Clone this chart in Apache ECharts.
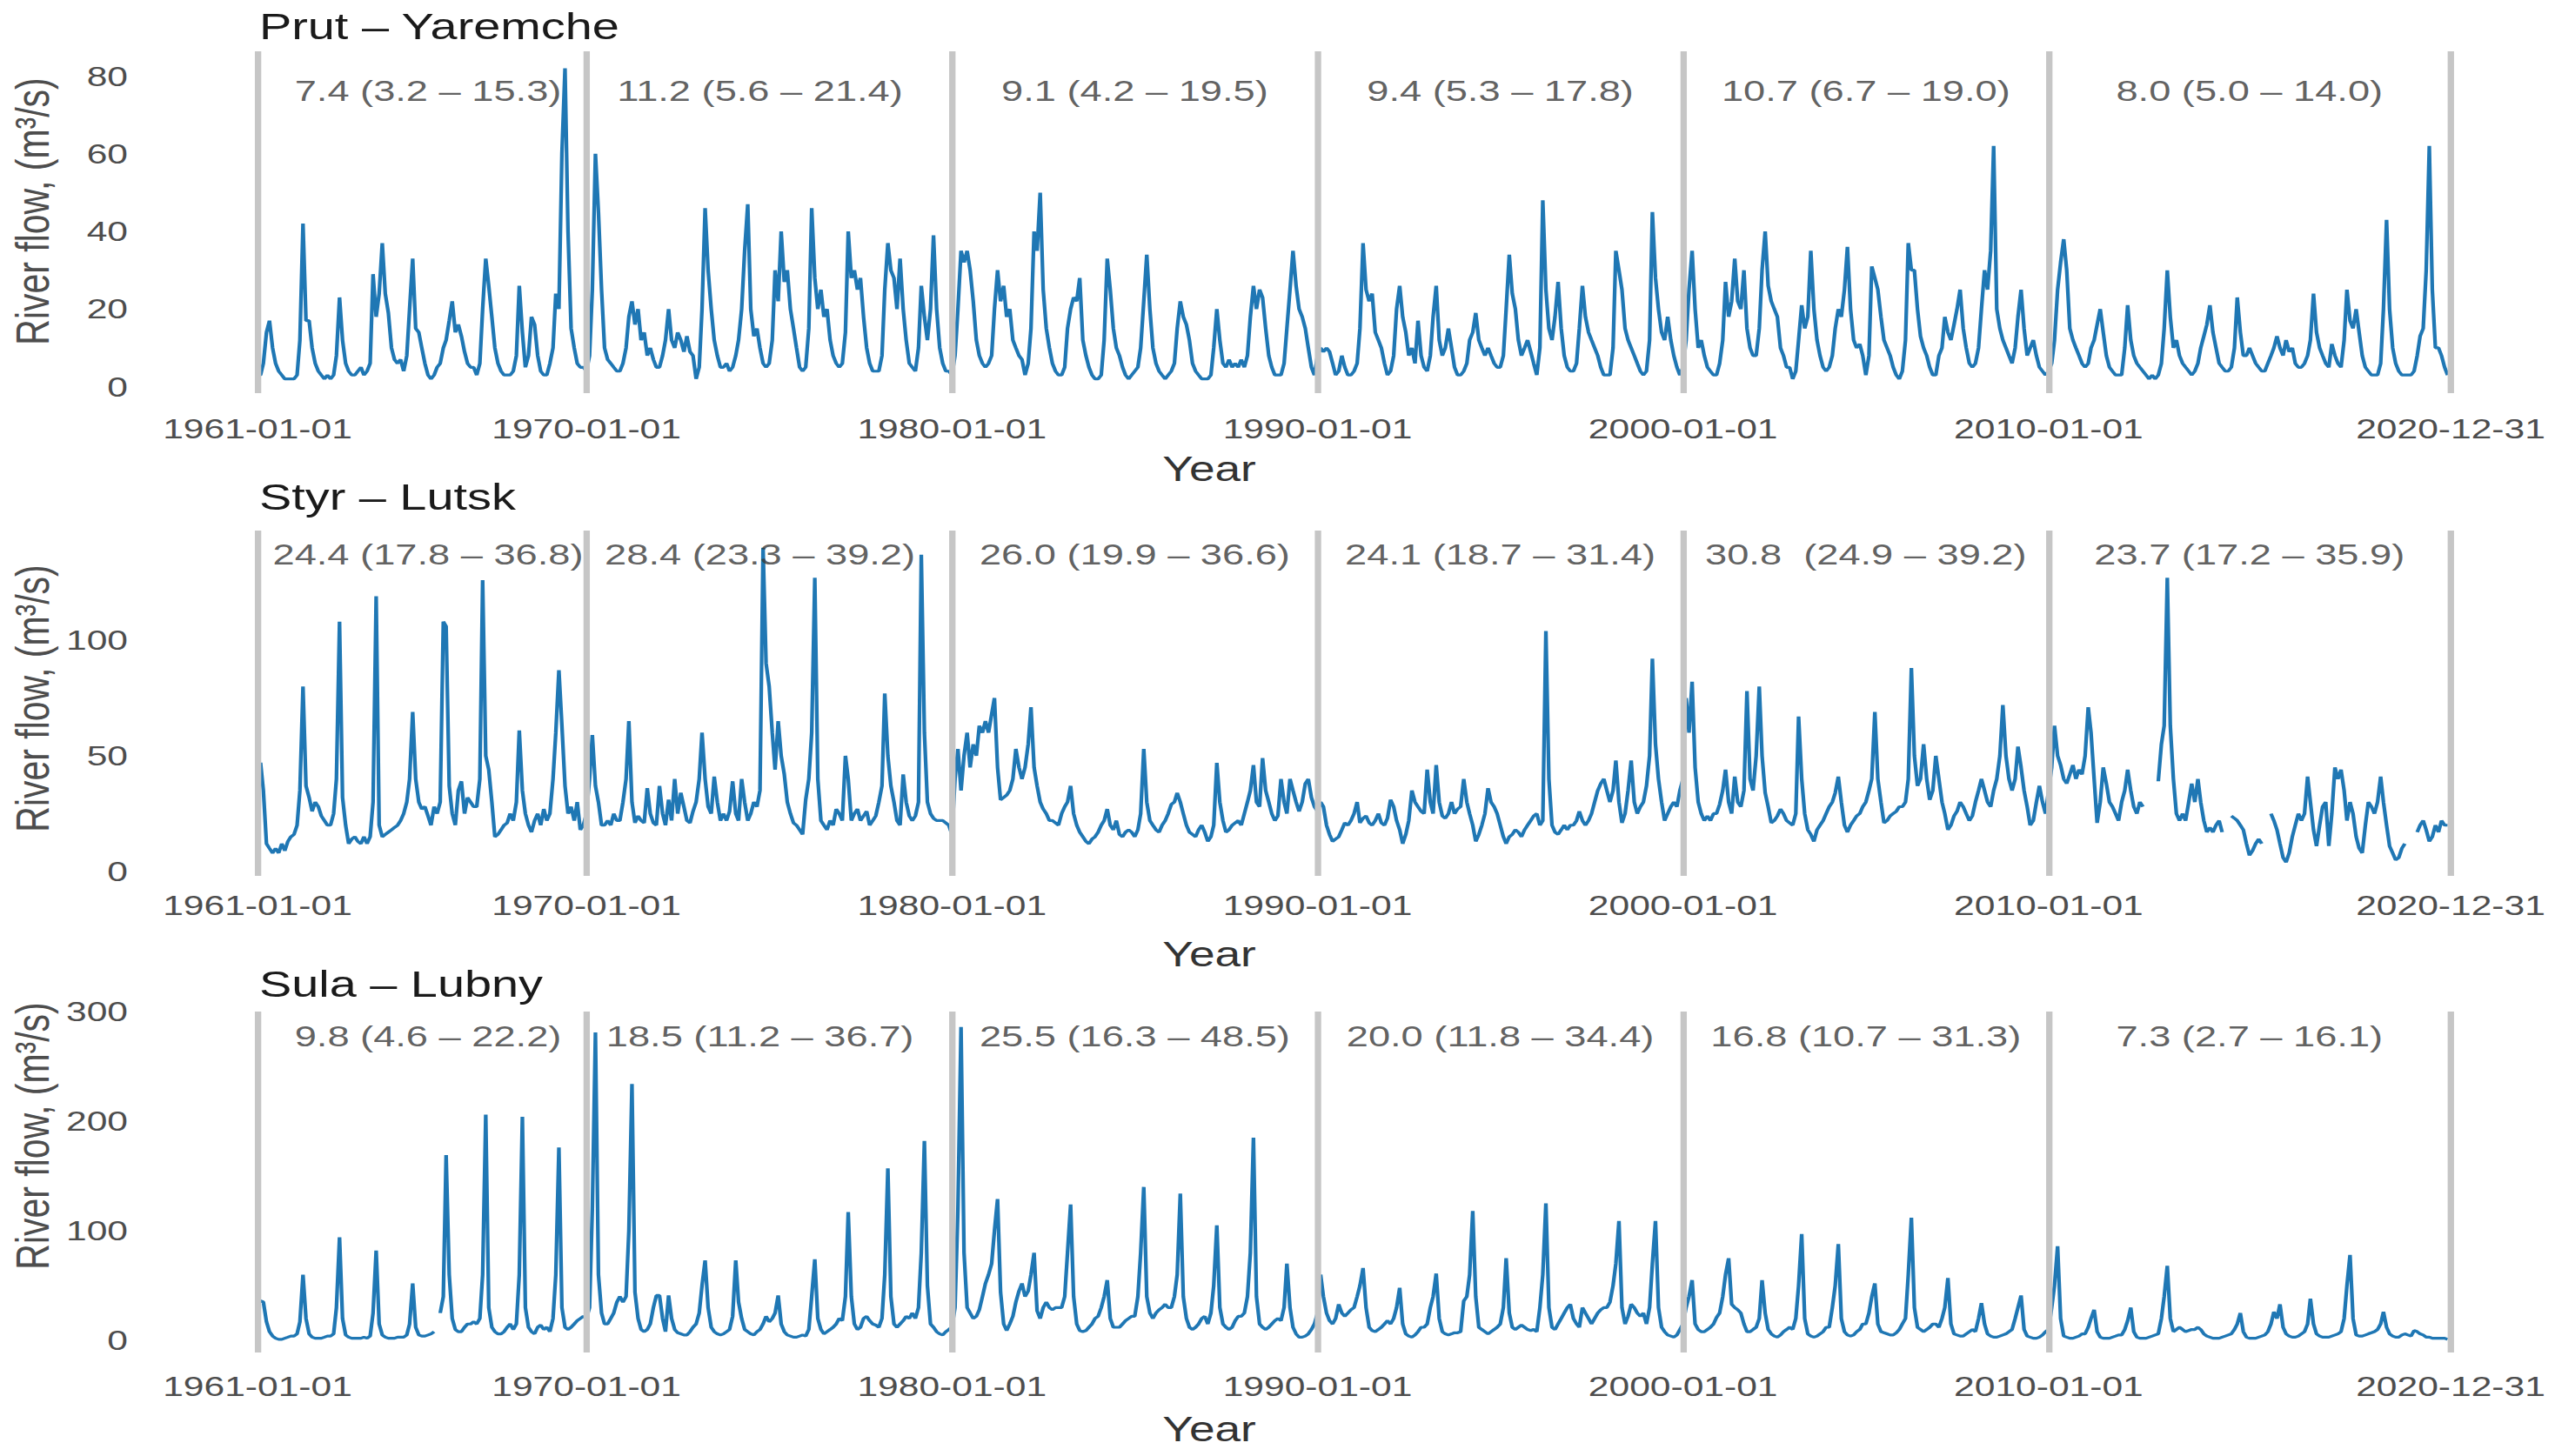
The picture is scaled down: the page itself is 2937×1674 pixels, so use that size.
<!DOCTYPE html>
<html>
<head>
<meta charset="utf-8">
<title>River flow</title>
<script src="https://cdn.jsdelivr.net/npm/echarts@6/dist/echarts.min.js"></script>
<style>
  html, body { margin: 0; padding: 0; background: #fff; overflow: hidden; }
  /* the source figure is stretched sideways, so the chart is drawn narrow and scaled */
  #main { width: 2208px; height: 1674px; transform: scaleX(1.33016); transform-origin: 0 0; }
</style>
</head>
<body>
<div id="main"></div>
<script>
var firstYear = 1961;
var riverNames = ['Prut – Yaremche', 'Styr – Lutsk', 'Sula – Lubny'];
var decadeTicks = ['1961-01-01', '1970-01-01', '1980-01-01', '1990-01-01', '2000-01-01', '2010-01-01', '2020-12-31'];
var noteDates = ['1965-09-01', '1974-10-01', '1985-01-01', '1995-01-01', '2005-01-01', '2015-07-01'];

var prutNotes = ['7.4 (3.2 – 15.3)', '11.2 (5.6 – 21.4)', '9.1 (4.2 – 19.5)', '9.4 (5.3 – 17.8)', '10.7 (6.7 – 19.0)', '8.0 (5.0 – 14.0)'];
var styrNotes = ['24.4 (17.8 – 36.8)', '28.4 (23.3 – 39.2)', '26.0 (19.9 – 36.6)', '24.1 (18.7 – 31.4)', '30.8  (24.9 – 39.2)', '23.7 (17.2 – 35.9)'];
var sulaNotes = ['9.8 (4.6 – 22.2)', '18.5 (11.2 – 36.7)', '25.5 (16.3 – 48.5)', '20.0 (11.8 – 34.4)', '16.8 (10.7 – 31.3)', '7.3 (2.7 – 16.1)'];

var prutTicks = [0, 20, 40, 60, 80];
var styrTicks = [0, 50, 100];
var sulaTicks = [0, 100, 200, 300];

// monthly mean flow, one row per year (Jan..Dec), 1961-2020
var prutFlow = [
  [3,3,6,14,17,10,6,4,3,2,2,2],
  [2,3,12,42,17,17,10,6,4,3,2,3],
  [2,3,8,23,12,6,4,3,3,4,5,3],
  [4,6,29,18,24,37,24,19,10,7,6,7],
  [4,8,20,33,15,14,10,6,3,2,3,5],
  [6,10,12,17,22,14,16,13,9,6,5,5],
  [3,6,20,33,26,18,10,6,4,3,3,3],
  [4,8,26,14,5,8,18,16,8,4,3,3],
  [6,10,24,20,60,82,40,15,10,6,5,5],
  [4,8,25,60,45,25,10,7,6,5,4,4],
  [6,10,18,22,16,20,12,14,8,10,7,5],
  [5,8,12,20,12,10,14,12,9,13,9,8],
  [2,5,20,46,30,20,12,8,5,5,6,4],
  [5,8,12,20,35,47,20,13,15,10,6,5],
  [6,12,30,22,40,27,30,20,15,10,5,4],
  [5,15,46,28,20,25,18,20,12,8,6,5],
  [6,14,40,28,30,25,28,18,10,6,4,4],
  [4,8,25,37,30,28,20,33,20,12,6,5],
  [4,10,26,18,12,20,39,20,10,6,4,4],
  [3,8,20,35,32,35,30,22,12,8,6,5],
  [6,8,20,30,22,26,18,20,12,10,8,7],
  [3,6,15,40,35,50,25,15,10,6,4,3],
  [3,5,15,20,23,22,28,12,8,5,3,2],
  [2,3,12,33,25,15,10,8,5,3,2,3],
  [4,5,10,22,34,20,10,6,4,3,2,3],
  [4,6,15,22,18,16,12,6,4,3,2,2],
  [2,3,10,20,12,6,5,7,5,6,5,7],
  [5,8,18,26,20,25,23,15,8,5,3,3],
  [3,6,15,25,35,26,20,18,15,10,5,3],
  [8,10,9,10,9,6,3,4,8,5,3,3],
  [4,6,15,37,25,22,24,14,12,10,6,3],
  [4,8,20,26,18,14,8,10,6,17,8,5],
  [4,8,18,26,12,8,10,15,10,5,3,3],
  [4,6,12,14,19,12,10,8,10,8,6,5],
  [5,8,20,34,24,20,12,8,10,12,9,6],
  [3,10,48,25,15,12,18,27,15,8,5,4],
  [4,6,15,26,18,14,12,10,8,5,3,3],
  [3,10,35,30,25,15,12,10,8,6,4,3],
  [4,12,45,28,20,14,12,18,12,8,5,3],
  [5,12,25,35,20,10,12,8,5,4,3,3],
  [6,12,27,18,22,33,22,20,30,15,10,8],
  [8,15,30,40,26,22,20,18,10,8,5,5],
  [2,4,12,21,15,18,35,20,12,8,5,4],
  [5,8,15,20,18,25,36,20,12,10,11,8],
  [3,8,31,28,25,18,12,10,8,5,3,2],
  [4,12,37,30,30,20,13,10,8,5,3,3],
  [8,10,18,14,12,16,20,25,15,10,6,5],
  [6,10,20,30,25,35,62,20,15,12,10,8],
  [6,10,18,25,15,8,10,12,8,5,4,3],
  [4,6,12,25,32,38,30,15,12,10,8,6],
  [5,6,10,12,16,20,14,8,5,4,3,3],
  [3,10,21,12,8,6,5,4,3,2,3,2],
  [3,6,15,30,18,10,12,8,6,5,4,3],
  [4,6,10,13,16,21,14,10,6,5,4,4],
  [5,10,23,14,8,8,10,8,6,5,4,4],
  [6,8,10,13,10,8,12,9,10,6,5,5],
  [6,8,12,24,14,10,8,6,5,11,8,6],
  [5,12,25,17,15,20,14,8,5,4,3,3],
  [3,6,20,43,20,10,6,4,3,3,3,3],
  [4,8,13,15,30,62,25,10,10,8,5,3]
];

var styrFlow = [
  [40,47,35,12,10,8,10,8,12,9,13,15],
  [16,20,35,80,37,32,26,30,28,24,22,20],
  [20,25,40,108,32,20,12,14,15,13,12,15],
  [12,15,30,119,20,15,16,17,18,19,20,22],
  [25,30,40,69,40,30,27,28,24,20,28,25],
  [30,108,106,37,25,20,35,39,25,32,30,28],
  [28,40,126,50,44,30,15,16,18,20,21,25],
  [22,30,61,35,25,20,17,22,25,20,27,22],
  [25,40,60,87,63,37,25,28,22,30,18,20],
  [25,40,59,37,30,20,20,22,20,25,22,22],
  [30,40,65,30,21,24,22,21,36,25,21,20],
  [37,25,20,31,22,40,25,34,28,22,21,26],
  [30,40,60,40,28,25,41,30,22,25,22,26],
  [39,25,22,40,30,22,25,30,28,35,140,90],
  [80,60,44,65,50,42,30,25,21,20,18,16],
  [31,40,60,127,40,22,20,18,22,20,27,25],
  [22,50,40,22,25,27,22,24,26,20,22,24],
  [30,37,77,50,37,30,22,20,42,30,24,22],
  [24,30,137,60,30,25,23,22,22,22,21,20],
  [16,40,53,35,50,60,45,55,50,63,60,65],
  [60,68,75,45,31,32,33,35,40,53,45,40],
  [45,55,71,45,37,30,27,25,22,22,21,20],
  [25,28,30,37,25,20,17,15,13,12,14,15],
  [17,20,22,27,20,18,22,16,15,17,18,17],
  [15,18,25,53,30,22,20,18,17,20,22,25],
  [29,30,34,30,25,20,17,16,15,18,20,17],
  [13,15,20,47,30,22,17,18,20,21,22,20],
  [25,30,35,46,30,28,49,35,30,25,22,24],
  [40,30,25,40,35,30,26,30,38,40,32,28],
  [26,30,28,20,16,13,14,15,18,21,20,22],
  [25,30,21,23,24,21,20,22,25,21,20,23],
  [31,28,22,18,12,16,22,35,30,28,26,25],
  [44,30,25,46,30,24,23,25,30,25,27,28],
  [40,30,25,20,13,16,20,25,36,30,28,25],
  [20,15,12,15,16,18,17,15,18,20,22,24],
  [25,20,22,104,40,20,17,16,18,20,18,20],
  [20,22,26,22,20,22,25,30,35,38,40,35],
  [30,35,48,30,21,25,35,48,30,25,28,30],
  [37,50,92,55,40,30,22,25,28,30,28,35],
  [40,75,60,82,45,30,25,22,24,22,25,25],
  [29,35,44,30,25,41,30,28,35,78,40,35],
  [50,80,50,34,28,21,22,24,27,25,22,21],
  [20,25,67,40,25,18,16,13,18,20,22,25],
  [28,30,34,41,30,20,17,20,22,24,25,28],
  [30,35,40,69,40,30,21,22,24,25,26,28],
  [28,30,40,88,50,37,40,55,40,31,35,50],
  [40,30,25,18,20,24,26,30,28,25,22,24],
  [30,35,40,35,30,28,35,40,50,72,50,40],
  [35,40,54,45,35,28,20,22,30,37,30,25],
  [35,45,63,50,46,40,38,42,46,40,44,42],
  [50,71,60,40,21,30,45,38,30,28,25,22],
  [30,35,44,35,28,25,30,28,null,null,null,null],
  [39,55,63,127,63,40,25,22,25,22,30,38],
  [30,40,30,22,17,19,17,20,22,17,null,null],
  [24,23,22,20,18,12,7,9,12,14,12,null],
  [null,25,22,18,12,6,4,8,15,20,25,22],
  [25,41,30,18,11,20,28,30,11,25,45,40],
  [44,35,22,30,25,15,10,8,20,30,28,25],
  [30,41,30,20,11,8,5,6,10,12,null,null],
  [null,17,20,22,18,13,15,20,17,22,20,20]
];

var sulaFlow = [
  [38,36,35,17,8,4,2,1,1,2,3,4],
  [4,6,17,60,20,6,3,2,2,2,3,4],
  [4,6,30,94,20,5,3,2,2,2,2,3],
  [2,4,25,82,15,5,3,2,2,2,3,3],
  [3,5,15,52,12,5,4,4,5,6,8,null],
  [25,40,169,60,20,10,8,8,12,15,15,17],
  [15,20,60,206,30,12,8,6,6,8,12,15],
  [10,15,60,204,30,12,8,6,12,14,10,12],
  [8,20,60,176,30,12,10,12,15,18,20,22],
  [20,30,120,281,60,25,15,15,20,25,35,40],
  [35,40,100,234,44,20,10,8,10,15,30,41],
  [41,20,8,41,20,10,7,6,5,5,8,12],
  [15,25,50,73,30,12,8,6,5,6,8,10],
  [22,73,35,20,10,8,6,5,8,10,15,22],
  [17,20,25,41,15,8,5,4,3,3,4,5],
  [4,10,40,74,20,10,6,8,10,12,15,20],
  [18,40,117,40,15,10,12,20,22,18,15,14],
  [12,20,60,157,40,15,12,15,18,22,20,25],
  [20,30,80,182,50,15,12,8,6,5,8,10],
  [12,30,120,286,80,30,25,20,22,28,40,52],
  [60,70,100,129,44,15,9,15,22,35,45,52],
  [40,45,60,80,27,20,30,35,30,28,30,30],
  [30,40,80,124,40,15,9,8,9,12,15,20],
  [22,30,40,55,20,12,12,12,15,18,20,22],
  [22,40,80,140,40,25,20,25,28,30,33,30],
  [30,40,60,134,40,20,12,10,12,15,20,22],
  [15,25,50,105,30,15,12,10,12,18,22,22],
  [25,40,80,185,40,15,12,10,12,15,18,20],
  [18,30,70,30,12,6,3,3,4,6,10,15],
  [25,60,40,25,18,15,20,33,25,22,25,28],
  [30,40,50,66,30,12,9,8,10,12,15,18],
  [15,20,30,48,15,6,4,3,5,8,12,12],
  [15,30,40,61,20,8,6,5,6,7,7,8],
  [36,40,60,118,40,12,10,8,6,8,10,12],
  [15,30,75,25,12,10,12,14,12,10,9,10],
  [8,30,60,125,30,12,10,15,20,25,30,33],
  [20,15,12,30,25,20,15,20,25,28,30,30],
  [35,50,70,109,30,15,22,33,30,25,22,25],
  [15,30,70,109,30,12,8,5,4,3,5,10],
  [15,30,40,55,15,10,8,8,10,12,15,21],
  [25,40,60,75,33,30,28,25,15,8,8,10],
  [12,20,55,25,10,6,4,3,5,8,10,12],
  [10,20,50,97,20,6,4,3,4,6,8,12],
  [12,30,50,88,20,8,5,4,5,8,10,15],
  [15,25,40,52,15,8,7,6,5,5,7,10],
  [15,20,60,112,30,12,10,8,10,12,15,15],
  [12,20,30,57,15,6,5,4,4,6,8,10],
  [8,20,34,15,6,4,3,3,4,5,6,8],
  [10,20,30,41,10,4,3,2,2,3,5,8],
  [10,30,50,86,20,4,3,2,2,3,4,6],
  [6,12,20,28,8,3,2,2,2,3,4,5],
  [5,10,18,30,8,3,2,2,2,3,4,5],
  [6,20,40,68,20,8,10,12,10,8,9,10],
  [10,12,10,6,4,3,2,2,2,3,4,5],
  [6,10,15,25,8,3,2,2,2,3,4,5],
  [8,15,26,20,33,12,6,4,3,3,4,6],
  [8,15,38,15,6,4,3,3,3,4,5,6],
  [8,20,50,78,20,5,4,4,5,6,7,8],
  [10,15,26,12,6,4,3,3,5,6,5,4],
  [9,8,6,5,3,3,2,2,2,2,2,1]
];

function toTime(s) {
  var p = s.split('-');
  return new Date(+p[0], +p[1] - 1, +p[2]).getTime();
}
function pad(n) { return n < 10 ? '0' + n : '' + n; }
function fmtDate(v) {
  var d = new Date(v);
  return d.getFullYear() + '-' + pad(d.getMonth() + 1) + '-' + pad(d.getDate());
}
function monthly(rows) {
  var out = [];
  rows.forEach(function (row, yi) {
    row.forEach(function (v, m) {
      out.push([new Date(firstYear + yi, m, 1).getTime(), v]);
    });
  });
  return out;
}

var fontFamily = '"Liberation Sans", Arial, sans-serif';
var flows = [prutFlow, styrFlow, sulaFlow];
var notes = [prutNotes, styrNotes, sulaNotes];
var yTicks = [prutTicks, styrTicks, sulaTicks];

// panel layout (pixels in the un-stretched chart)
var panels = [
  { top: 59, height: 393, yMin: -1.66, yMax: 86.4, noteY: 76.4, labelMargin: 25, titleY: 30, yearY: 539, yTitleY: 243 },
  { top: 610, height: 397, yMin: -1.9, yMax: 147.4, noteY: 137.2, labelMargin: 18, titleY: 571, yearY: 1097, yTitleY: 803 },
  { top: 1163, height: 392, yMin: -11, yMax: 300, noteY: 278, labelMargin: 23, titleY: 1131, yearY: 1643, yTitleY: 1306 }
];

var grids = [], xAxes = [], yAxes = [], series = [], graphics = [];
var tMin = toTime(decadeTicks[0]);
var tMax = toTime(decadeTicks[decadeTicks.length - 1]);

panels.forEach(function (p, i) {
  grids.push({ left: 222.5, right: 90.2, top: p.top, height: p.height, outerBoundsMode: 'none' });
  // timestamps on a plain value axis, labelled as dates
  xAxes.push({
    type: 'value', gridIndex: i, min: tMin, max: tMax, scale: true,
    axisLine: { show: false }, axisTick: { show: false }, splitLine: { show: false },
    axisLabel: {
      customValues: decadeTicks.map(toTime),
      formatter: fmtDate,
      margin: p.labelMargin,
      fontSize: 32, fontFamily: fontFamily, color: '#4d4d4d', hideOverlap: false
    }
  });
  yAxes.push({
    type: 'value', gridIndex: i, min: p.yMin, max: p.yMax,
    axisLine: { show: false }, axisTick: { show: false }, splitLine: { show: false },
    axisLabel: {
      customValues: yTicks[i],
      margin: 112, fontSize: 32, fontFamily: fontFamily, color: '#4d4d4d'
    }
  });
  series.push({
    type: 'line', xAxisIndex: i, yAxisIndex: i,
    data: monthly(flows[i]),
    showSymbol: false, connectNulls: false, clip: false, animation: false,
    lineStyle: { color: '#1f77b4', width: 3.2 },
    itemStyle: { color: '#1f77b4' },
    markLine: {
      silent: true, animation: false, symbol: ['none', 'none'],
      label: { show: false },
      emphasis: { disabled: true },
      lineStyle: { color: '#c6c6c6', width: 5.5, type: 'solid' },
      data: decadeTicks.map(function (d) { return { xAxis: toTime(d) }; })
    }
  });
  var panelNotes = notes[i];
  series.push({
    type: 'scatter', xAxisIndex: i, yAxisIndex: i, silent: true, animation: false,
    symbolSize: 0, z: 5,
    data: noteDates.map(function (d) { return [toTime(d), p.noteY]; }),
    label: {
      show: true, position: 'inside',
      formatter: function (prm) { return panelNotes[prm.dataIndex]; },
      fontSize: 34, fontFamily: fontFamily, color: '#383838'
    }
  });
  graphics.push({
    type: 'text', x: 224, y: p.titleY,
    style: { text: riverNames[i], fontSize: 42, fontFamily: fontFamily, fill: '#1a1a1a',
      align: 'left', verticalAlign: 'middle', textAlign: 'left', textVerticalAlign: 'middle' }
  });
  graphics.push({
    type: 'text', x: 1045, y: p.yearY,
    style: { text: 'Year', fontSize: 40, fontFamily: fontFamily, fill: '#333',
      align: 'center', verticalAlign: 'middle', textAlign: 'center', textVerticalAlign: 'middle' }
  });
  graphics.push({
    type: 'text', x: 28, y: p.yTitleY, rotation: Math.PI / 2,
    style: { text: 'River flow, (m³/s)', fontSize: 41, fontFamily: fontFamily, fill: '#4d4d4d',
      align: 'center', verticalAlign: 'middle', textAlign: 'center', textVerticalAlign: 'middle' }
  });
});

var myChart = echarts.init(document.getElementById('main'), null, { renderer: 'svg' });
myChart.setOption({
  backgroundColor: '#fff',
  animation: false,
  textStyle: { fontFamily: fontFamily },
  grid: grids,
  xAxis: xAxes,
  yAxis: yAxes,
  series: series,
  graphic: { elements: graphics }
});
</script>
</body>
</html>
